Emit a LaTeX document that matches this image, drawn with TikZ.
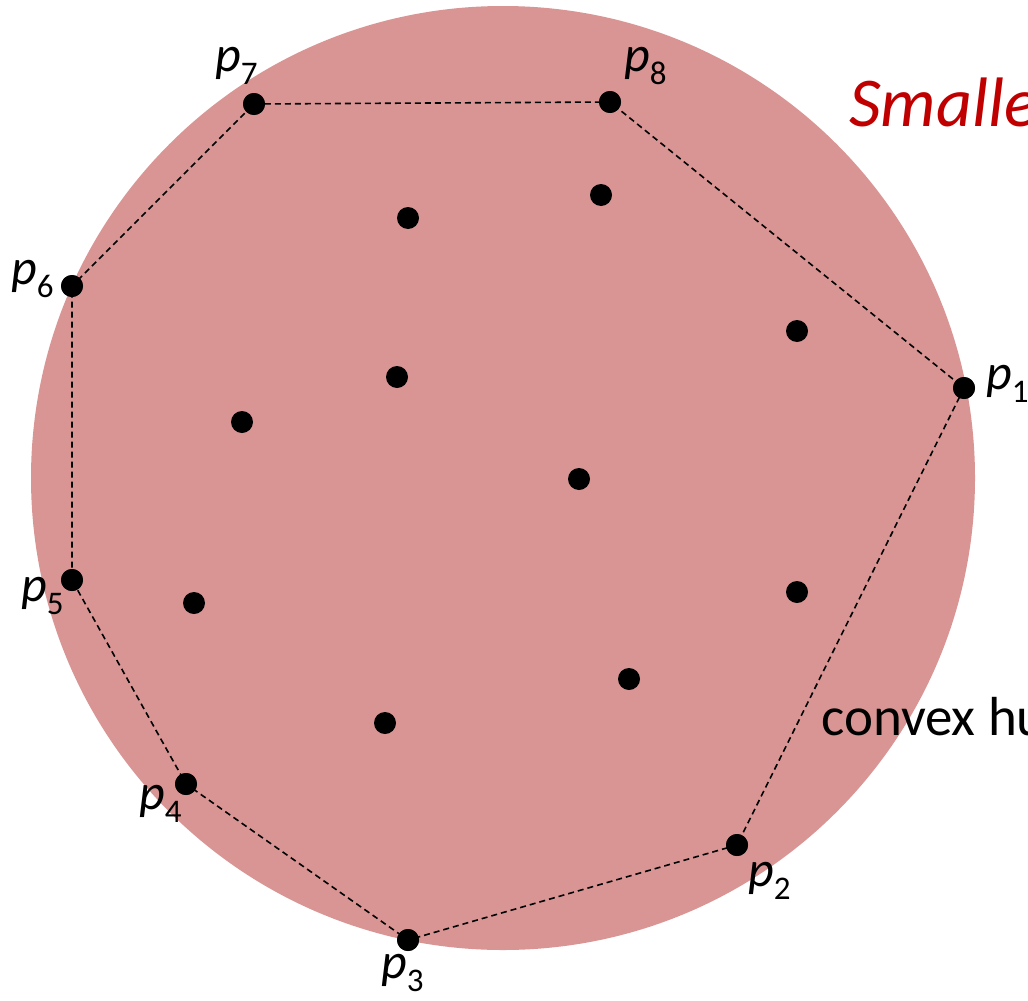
\documentclass[tikz,border=0pt]{standalone}
\usepackage{fontspec}
\setmainfont{Carlito}
\definecolor{circfill}{HTML}{D99594}
\definecolor{titlered}{HTML}{C00000}
\newcommand{\plab}[1]{{\fontsize{50}{50}\selectfont\itshape p}\raisebox{-13pt}{\fontsize{33}{33}\selectfont #1}}
\begin{document}
\begin{tikzpicture}[x=1pt,y=-1pt,
  pt/.style={circle,fill=black,inner sep=0pt,minimum size=22pt},
  hull/.style={draw=black,line width=1.6pt,dash pattern=on 6pt off 4pt},
  lab/.style={anchor=base west,inner sep=0pt}]
\useasboundingbox (0,0) rectangle (1028,1001);
\clip (0,0) rectangle (1028,1001);
\fill[circfill] (503,478) circle (472);
% hull points
\node[pt] (p1) at (964,388) {};
\node[pt] (p2) at (737,845) {};
\node[pt] (p3) at (408,940) {};
\node[pt] (p4) at (186,784) {};
\node[pt] (p5) at (72,580) {};
\node[pt] (p6) at (72,286) {};
\node[pt] (p7) at (254,104) {};
\node[pt] (p8) at (610,102) {};
% interior points
\node[pt] (q1) at (408,218) {};
\node[pt] (q2) at (601,195) {};
\node[pt] (q3) at (797,331) {};
\node[pt] (q4) at (397,377) {};
\node[pt] (q5) at (242,422) {};
\node[pt] (q6) at (579,479) {};
\node[pt] (q7) at (194,603) {};
\node[pt] (q8) at (797,592) {};
\node[pt] (q9) at (629,679) {};
\node[pt] (q10) at (385,723) {};
% hull
\draw[hull] (p1.center) -- (p2.center) -- (p3.center) -- (p4.center) -- (p5.center) -- (p6.center) -- (p7.center) -- (p8.center) -- cycle;
\foreach \n in {p1,p2,p3,p4,p5,p6,p7,p8}{\node[pt] at (\n) {};}
% labels
\node[lab] (l1) at (986,389) {\plab{1}};
\node[lab] (l2) at (748,886) {\plab{2}};
\node[lab] (l3) at (381,978) {\plab{3}};
\node[lab] (l4) at (139,809) {\plab{4}};
\node[lab] (l5) at (21,601) {\plab{5}};
\node[lab] (l6) at (11,284) {\plab{6}};
\node[lab] (l7) at (215,71) {\plab{7}};
\node[lab] (l8) at (624,71) {\plab{8}};
% texts
\node[lab,text=titlered] (title) at (849,126) {\fontsize{70}{70}\selectfont\itshape Smallest};
\node[lab] (cvx) at (821,735) {\fontsize{55}{55}\selectfont convex hull};
\end{tikzpicture}
\end{document}
